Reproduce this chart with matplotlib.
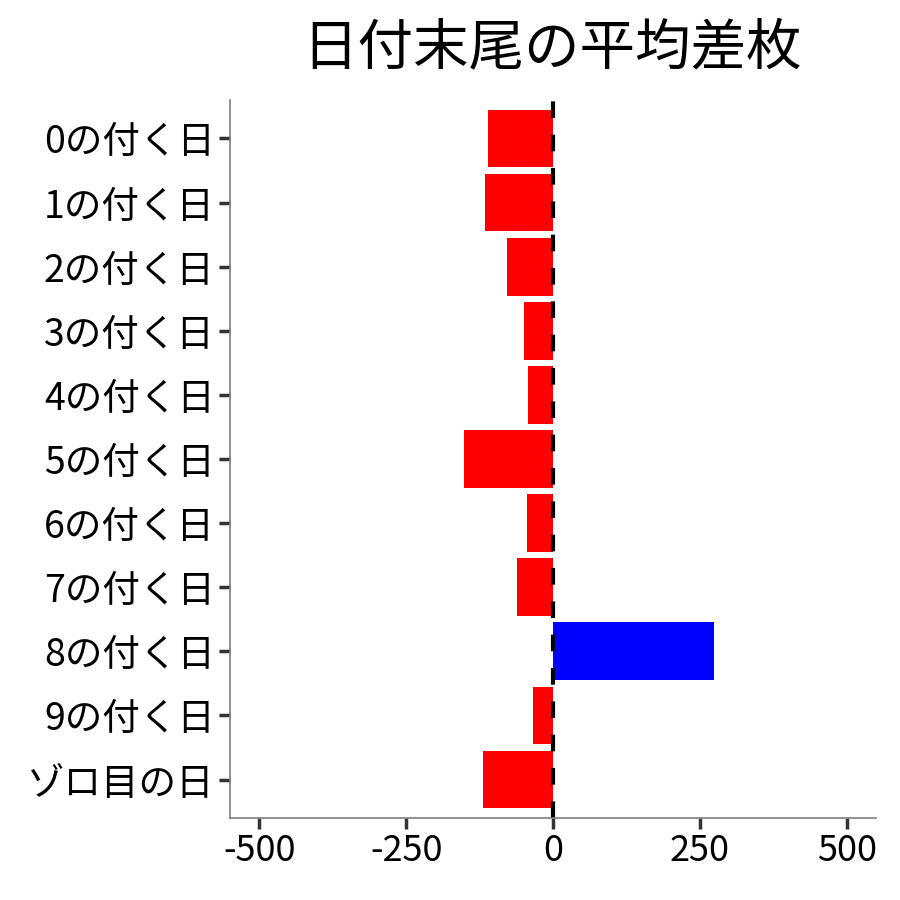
import numpy as np
import matplotlib
matplotlib.use('Agg')
import matplotlib.pyplot as plt

plt.rcParams['font.family'] = ['Noto Sans CJK JP', 'DejaVu Sans']

labels = ['0の付く日', '1の付く日', '2の付く日', '3の付く日', '4の付く日',
          '5の付く日', '6の付く日', '7の付く日', '8の付く日', '9の付く日',
          'ゾロ目の日']
diff = [-110, -116, -78, -49, -43, -151, -44, -61, 275, -34, -119]
colors = ['blue' if v > 0 else 'red' for v in diff]

fig = plt.figure(figsize=(9, 9), dpi=100)
ax = fig.add_axes([0.2556, 0.0911, 0.7177, 0.7978])

y = np.arange(len(labels))
ax.barh(y, diff, height=0.9, color=colors)
ax.axvline(0, color='black', linestyle=(0, (4, 4)), linewidth=3)

ax.set_yticks(y)
ax.set_yticklabels(labels, fontsize=27)
ax.set_ylim(len(labels) - 0.4, -0.6)
ax.set_xlim(-550, 550)
ax.set_xticks([-500, -250, 0, 250, 500])
ax.set_xticklabels(['-500', '-250', '0', '250', '500'], fontsize=26)
ax.tick_params(length=8, width=2.5, color='#333333', pad=3)

for s in ['top', 'right']:
    ax.spines[s].set_visible(False)
for s in ['left', 'bottom']:
    ax.spines[s].set_color('#7f7f7f')
    ax.spines[s].set_linewidth(1.2)

fig.suptitle('日付末尾の平均差枚', fontsize=40, x=0.613, y=0.978)

plt.savefig('out.png', dpi=100)
